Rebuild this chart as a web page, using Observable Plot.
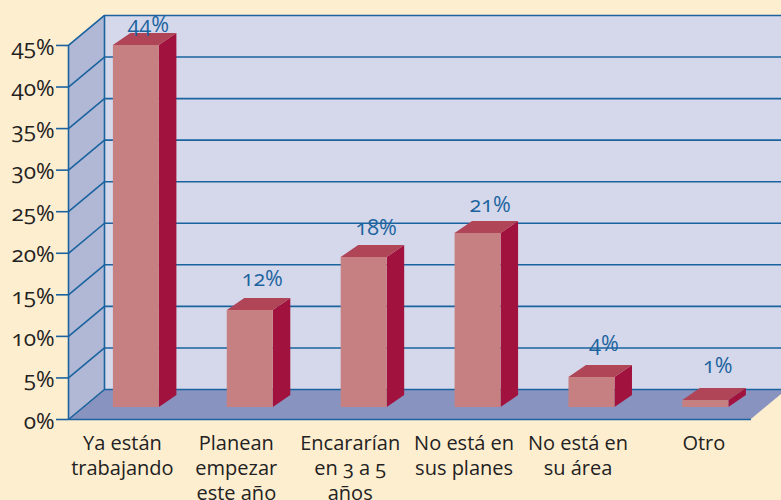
<!DOCTYPE html>
<html>
<head>
<meta charset="utf-8">
<script src="https://cdn.jsdelivr.net/npm/d3@7"></script>
<script src="https://cdn.jsdelivr.net/npm/@observablehq/plot@0.6"></script>
<style>
html,body{margin:0;padding:0;background:#feeed0;overflow:hidden}
svg{display:block;background:#feeed0}
text{font-variant-numeric:oldstyle-nums;font-feature-settings:"onum" 1}
</style>
</head>
<body>
<div id="chart"></div>
<script>
const categories = ["Ya están\ntrabajando","Planean\nempezar\neste año","Encararían\nen 3 a 5\naños","No está en\nsus planes","No está en\nsu área","Otro"];
const values = [43.56, 11.67, 18.05, 20.94, 3.61, 0.84];
const ticks = [0,5,10,15,20,25,30,35,40,45];

// oblique-projection depth, in scale units
const depthX = 0.316, depthY = 3.61;
const barDepthX = 0.1536, barDepthY = 1.44, barW = 0.404;
const xMin = -0.5961, xFront = 5.400, xMax = 5.664, yMax = 50.41;

const bars = values.map((v,i)=>({i, v, cat:categories[i],
  x1:i-barW/2, x2:i+barW/2, y1:barDepthY, y2:barDepthY+v}));
const side = bars.flatMap(b=>[
  {i:b.i,x:b.x2,lo:b.y1,hi:b.y2},
  {i:b.i,x:b.x2+barDepthX,lo:b.y1+barDepthY,hi:b.y2+barDepthY}]);
const topFace = bars.flatMap(b=>[
  {i:b.i,x1:b.x1,x2:b.x2,y:b.y2},
  {i:b.i,x1:b.x1+barDepthX,x2:b.x2+barDepthX,y:b.y2+barDepthY}]);
const line = "#1b639f";

const chart = Plot.plot({
  width:781, height:500,
  marginLeft:68, marginRight:0, marginTop:0, marginBottom:81,
  style:{background:"#feeed0",fontFamily:"'Open Sans',sans-serif",overflow:"hidden"},
  x:{type:"linear",domain:[xMin,xMax],axis:null},
  y:{type:"linear",domain:[0,yMax],axis:null},
  marks:[
    // back wall
    Plot.rect([0],{x1:xMin+depthX,x2:xMax,y1:depthY,y2:45+depthY,fill:"#d4d8ea",clip:true}),
    // left wall
    Plot.area([{x:xMin,a:0,b:45},{x:xMin+depthX,a:depthY,b:45+depthY}],{x1:"x",y1:"a",y2:"b",fill:"#b0b8d6"}),
    // floor
    Plot.area([{a:xMin,b:xFront,y:0},{a:xMin+depthX,b:xFront+depthX,y:depthY}],{x1:"a",x2:"b",y1:"y",fill:"#8893bf",clip:true}),
    // gridlines on the back wall and the wall diagonals
    Plot.ruleY(ticks,{y:d=>d+depthY,x1:xMin+depthX,x2:xMax,stroke:line,strokeWidth:1.6}),
    Plot.link(ticks,{x1:xMin,y1:d=>d,x2:xMin+depthX,y2:d=>d+depthY,stroke:line,strokeWidth:1.6}),
    Plot.ruleX([xMin],{y1:0,y2:45,stroke:line,strokeWidth:1.6}),
    Plot.ruleX([xMin+depthX],{y1:depthY,y2:45+depthY,stroke:line,strokeWidth:1.6}),
    Plot.ruleY([0],{x1:xMin,x2:xFront,stroke:line,strokeWidth:1.6}),
    // bars
    Plot.area(side,{x1:"x",y1:"lo",y2:"hi",z:"i",fill:"#a2123f"}),
    Plot.area(topFace,{x1:"x1",x2:"x2",y1:"y",z:"i",fill:"#b04558"}),
    Plot.rect(bars,{x1:"x1",x2:"x2",y1:"y1",y2:"y2",fill:"#c78082"}),
    // value labels
    Plot.text(bars,{x:d=>d.i,y:d=>d.v*0.96+5.3,dx:12,dy:-3,text:d=>Math.round(d.v)+"%",fill:line,fontSize:21.5}),
    // axis
    Plot.axisY({ticks,tickSize:12,text:null,stroke:line,strokeWidth:1.6}),
    Plot.axisY({ticks,tickSize:0,tickPadding:14,dy:2,tickFormat:d=>d+"%",fontSize:22.5,color:"#222"}),
    // category labels
    Plot.text(bars,{x:d=>d.i===5?d.i+0.105:d.i,y:0,dx:-14,dy:12.5,text:"cat",lineAnchor:"top",lineHeight:1.26,fontSize:20,fill:"#222"})
  ]
});
document.getElementById("chart").appendChild(chart);
</script>
</body>
</html>
